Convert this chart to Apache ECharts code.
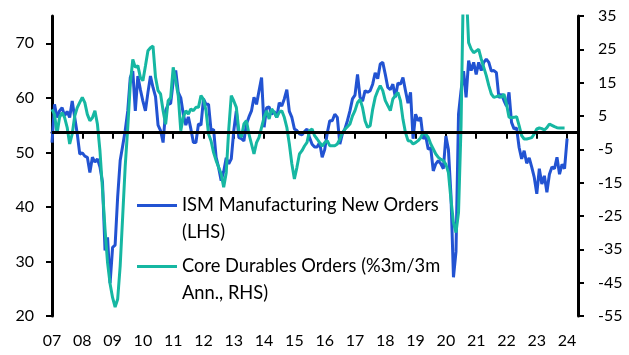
<!DOCTYPE html>
<html>
<head>
<meta charset="utf-8">
<script src="https://cdn.jsdelivr.net/npm/echarts@6/dist/echarts.min.js"></script>
<style>
  html, body { margin: 0; padding: 0; background: #ffffff; }
  #chart { width: 629px; height: 355px; }
</style>
</head>
<body>
<div id="chart"></div>
<script>
// Monthly data, first value = Jan 2007
const startYear = 2007;
const ismNewOrders = [
  51.8, 58.8, 56.4, 57.6, 58.2, 56.7, 57.5, 56.4, 59.4, 56.4, 53.4, 49.7,
  49.9, 49.3, 49.1, 46.3, 49.1, 48.2, 48.8, 47.3, 44.5, 32.0, 34.4, 26.0,
  32.6, 33.0, 41.8, 48.5, 51.2, 54.0, 57.6, 63.7, 64.9, 57.6, 64.0, 61.5,
  59.4, 57.6, 61.0, 64.0, 61.9, 60.2, 55.0, 54.0, 51.8, 57.6, 58.8, 59.0,
  63.0, 65.0, 61.0, 60.0, 57.0, 55.0, 56.5, 54.3, 51.8, 51.8, 55.2, 55.0,
  59.8, 58.8, 58.8, 54.0, 54.2, 49.1, 47.2, 44.8, 46.5, 49.0, 47.9, 48.8,
  54.0, 57.6, 52.7, 52.5, 52.1, 55.2, 56.5, 57.6, 60.1, 58.8, 61.3, 63.7,
  54.6, 58.2, 58.3, 57.0, 57.5, 56.4, 59.1, 58.5, 59.8, 61.5, 57.5, 56.4,
  54.3, 54.0, 53.4, 53.2, 53.8, 54.3, 52.7, 51.5, 51.0, 51.0, 51.8, 49.1,
  50.5, 53.5, 55.8, 55.8, 57.0, 56.4, 51.5, 53.4, 54.3, 55.8, 57.6, 59.8,
  60.5, 64.3, 60.1, 59.4, 61.3, 61.0, 61.3, 62.5, 64.6, 63.5, 66.2, 66.5,
  64.3, 61.9, 61.5, 62.5, 60.1, 62.7, 62.5, 63.7, 61.3, 59.0, 61.0, 52.5,
  57.0, 55.8, 56.4, 52.5, 53.0, 50.6, 50.8, 46.6, 47.9, 48.5, 47.9, 47.0,
  53.0, 50.5, 42.2, 27.1, 31.8, 57.0, 61.3, 64.9, 60.1, 66.8, 65.0, 66.5,
  64.3, 66.5, 65.0, 66.5, 67.1, 66.5, 64.9, 65.0, 64.6, 60.0, 60.7, 59.5,
  58.5, 61.0, 55.5, 54.3, 54.5, 50.9, 48.8, 50.3, 48.0, 49.0, 47.3, 45.4,
  42.4, 47.0, 44.2, 45.7, 42.7, 46.0, 47.3, 47.0, 49.1, 46.0, 47.8, 47.0,
  52.5
];
const coreDurables3m3m = [
  7.0, 5.5, -0.3, 4.6, 6.0, 4.5, 1.6, -3.4, -0.4, 5.0, 7.5, 9.1,
  10.6, 9.0, 5.5, 3.6, 4.5, 6.6, 2.5, -5.5, -17.0, -29.0, -39.0, -45.3,
  -49.5, -52.3, -50.0, -40.0, -25.0, -10.0, 1.5, 14.6, 22.0, 19.6, 20.1, 16.6,
  15.6, 20.0, 24.6, 25.5, 26.0, 16.6, 12.6, 11.6, 6.6, 2.5, 9.6, 10.5,
  19.6, 15.6, 11.1, 0.6, 4.6, 6.6, 5.6, 7.1, 6.6, 7.6, 7.6, 11.1,
  10.0, 6.6, -0.4, -2.5, -6.0, -8.4, -10.4, -12.4, -16.4, -12.0, 1.0, 11.1,
  9.5, 7.6, 0.6, -1.4, 2.6, 3.6, -0.4, -3.4, -6.4, -3.0, -1.4, 1.6,
  4.6, 6.6, 4.1, 7.1, 6.1, 4.6, 6.1, 6.6, 4.6, 1.6, -3.4, -9.4,
  -13.9, -10.4, -6.4, -5.4, -4.0, -2.9, 0.6, 1.1, -0.9, -1.9, -3.0, -4.0,
  -3.0, -2.4, -3.9, -3.9, -3.9, -3.4, -2.0, 0.0, 1.0, 1.8, 2.6, 5.0,
  6.6, 9.0, 10.0, 7.5, 3.5, 1.6, 2.1, 7.0, 10.6, 12.6, 14.1, 12.6,
  9.6, 8.1, 6.6, 10.1, 11.1, 12.1, 9.6, 4.0, 0.0, -2.4, -2.5, -3.4,
  -3.0, -2.4, -1.5, 0.1, -0.5, -1.4, -3.4, -4.9, -6.4, -7.4, -8.0, -8.4,
  -9.5, -12.0, -20.0, -27.0, -30.0, -24.0, 2.0, 48.0, 44.0, 27.0, 25.1, 24.0,
  24.5, 25.0, 22.1, 19.6, 17.1, 14.1, 11.6, 10.6, 10.8, 11.1, 10.6, 11.6,
  8.6, 4.6, 4.5, 4.6, 4.8, 2.1, -0.9, -1.9, -1.9, -1.7, -1.5, -0.4,
  1.1, 1.4, 1.2, 0.8, 1.5, 2.6, 2.2, 1.8, 1.5, 1.4, 1.4, 1.4
];
const xTickYears = [2007,2008,2009,2010,2011,2012,2013,2014,2015,2016,2017,2018,2019,2020,2021,2022,2023,2024];
const leftTicks = [20, 30, 40, 50, 60, 70];
const rightTicks = [-55, -45, -35, -25, -15, -5, 5, 15, 25, 35];
const seriesNames = ['ISM Manufacturing New Orders (LHS)', 'Core Durables Orders (%3m/3m Ann., RHS)'];
const legendLines = {
  'ISM Manufacturing New Orders (LHS)': ['ISM Manufacturing New Orders', '(LHS)'],
  'Core Durables Orders (%3m/3m Ann., RHS)': ['Core Durables Orders (%3m/3m', 'Ann., RHS)']
};

function toPairs(arr) {
  return arr.map(function (v, i) { return [startYear + i / 12, v]; });
}

const FONT = 'Lato';
const chart = echarts.init(document.getElementById('chart'), null, { renderer: 'canvas' });

const axisLineStyle = { color: '#000', width: 3 };

function legendItem(name, top) {
  return {
    data: [name],
    left: 137,
    top: top,
    orient: 'vertical',
    padding: 0,
    icon: 'rect',
    itemWidth: 40,
    itemHeight: 3,
    selectedMode: false,
    // leading blank line so the icon lines up with the first text line
    formatter: function (n) { return ' \n' + legendLines[n].join('\n'); },
    textStyle: { fontFamily: FONT, fontSize: 18.3, color: '#000', lineHeight: 27 }
  };
}

const option = {
  animation: false,
  backgroundColor: '#ffffff',
  grid: { left: 52, right: 51, top: 16, bottom: 39, containLabel: false, outerBoundsMode: 'none' },
  legend: [legendItem(seriesNames[0], 165), legendItem(seriesNames[1], 226)],
  xAxis: {
    type: 'value',
    min: 2007,
    max: 2024.36,
    interval: 1,
    splitLine: { show: false },
    axisLine: { show: true, lineStyle: axisLineStyle },
    axisTick: { show: true, length: 6, lineStyle: { color: '#000', width: 2 }, customValues: xTickYears },
    axisLabel: {
      customValues: xTickYears,
      margin: 17,
      fontFamily: FONT, fontSize: 16, color: '#000',
      formatter: function (v) { return String(Math.round(v) % 100).padStart(2, '0'); }
    }
  },
  yAxis: [
    {
      type: 'value', position: 'left', min: 20, max: 75, interval: 10,
      splitLine: { show: false },
      axisLine: { show: true, lineStyle: axisLineStyle },
      axisTick: { show: true, length: 6, lineStyle: { color: '#000', width: 2 }, customValues: leftTicks },
      axisLabel: { customValues: leftTicks, margin: 18, fontFamily: FONT, fontSize: 16, color: '#000' }
    },
    {
      type: 'value', position: 'right', min: -55, max: 35, interval: 10,
      splitLine: { show: false },
      axisLine: { show: true, lineStyle: axisLineStyle },
      axisTick: { show: true, length: 6, lineStyle: { color: '#000', width: 2 }, customValues: rightTicks },
      axisLabel: { customValues: rightTicks, margin: 20, fontFamily: FONT, fontSize: 16, color: '#000' }
    }
  ],
  series: [
    {
      name: 'zero',
      type: 'line',
      yAxisIndex: 1,
      data: [],
      silent: true,
      z: 1,
      markLine: {
        silent: true,
        symbol: ['none', 'none'],
        label: { show: false },
        lineStyle: { color: '#000', width: 3, type: 'solid' },
        data: [{ yAxis: 0 }]
      }
    },
    {
      name: seriesNames[0],
      type: 'line',
      yAxisIndex: 0,
      data: toPairs(ismNewOrders),
      showSymbol: false,
      symbol: 'none',
      z: 3,
      lineStyle: { width: 3, color: '#2253D2' },
      itemStyle: { color: '#2253D2' }
    },
    {
      name: seriesNames[1],
      type: 'line',
      yAxisIndex: 1,
      data: toPairs(coreDurables3m3m),
      showSymbol: false,
      symbol: 'none',
      z: 4,
      lineStyle: { width: 3, color: '#16B7A2' },
      itemStyle: { color: '#16B7A2' }
    }
  ]
};
chart.setOption(option);
</script>
</body>
</html>
